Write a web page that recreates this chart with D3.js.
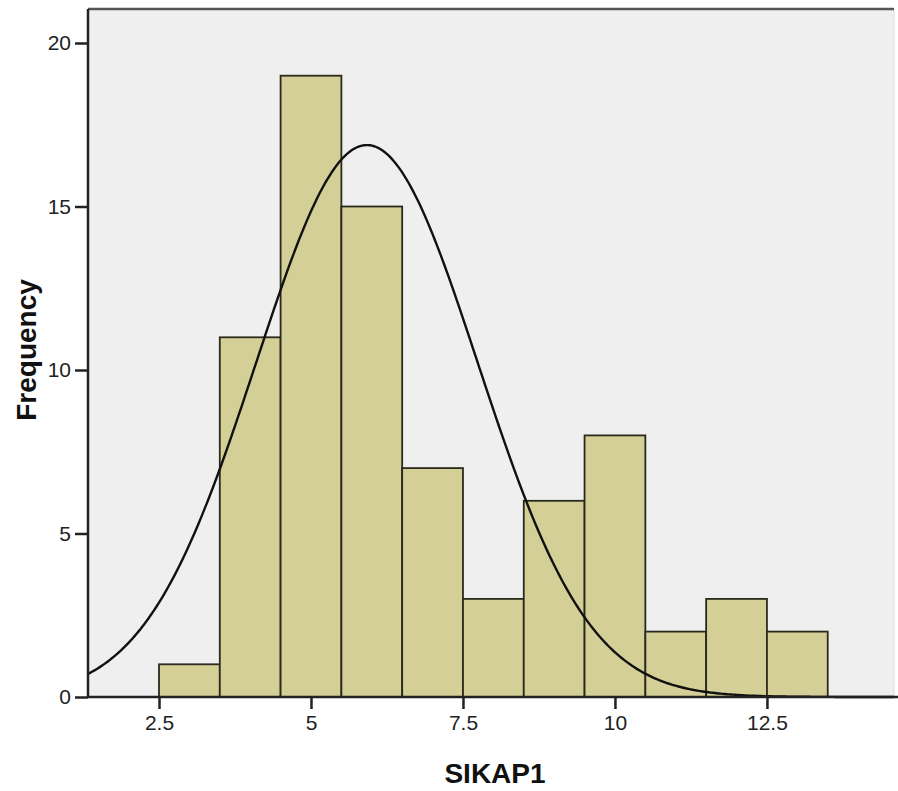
<!DOCTYPE html>
<html>
<head>
<meta charset="UTF-8" />
<style>
    body { margin: 0; background: #fff; }
    text { font-family: "Liberation Sans", Arial, sans-serif; fill: #222; }
    .tick-label { font-size: 21px; }
    .title { font-size: 28px; font-weight: bold; fill: #111; }
</style>
<script src="https://d3js.org/d3.v7.min.js"></script>
</head>
<body>
<svg width="898" height="791"></svg>
<script>
// histogram bins (lower edge) and counts
var binStarts = [2.5, 3.5, 4.5, 5.5, 6.5, 7.5, 8.5, 9.5, 10.5, 11.5, 12.5];
var counts    = [1, 11, 19, 15, 7, 3, 6, 8, 2, 3, 2];
var binWidth = 1;

// fitted normal curve
var curveMean = 5.92, curveSd = 1.82, curveN = 77;

var xTicks = [2.5, 5, 7.5, 10, 12.5];
var yTicks = [0, 5, 10, 15, 20];

var svg = d3.select("svg");

var plotLeft = 88, plotRight = 894, plotTop = 9, plotBottom = 697;

var x = d3.scaleLinear().domain([1.332, 14.59]).range([plotLeft, plotRight]);
var y = d3.scaleLinear().domain([0, 20]).range([plotBottom, 43]);

// plot background
svg.append("rect")
   .attr("x", plotLeft).attr("y", plotTop)
   .attr("width", plotRight - plotLeft).attr("height", plotBottom - plotTop)
   .attr("fill", "#efefef");
svg.append("line")
   .attr("x1", plotRight).attr("x2", plotRight).attr("y1", plotTop).attr("y2", plotBottom)
   .attr("stroke", "#dcdcdc").attr("stroke-width", 1);

// bars
svg.append("g").selectAll("rect")
   .data(counts)
   .enter().append("rect")
   .attr("x", function(d, i) { return x(binStarts[i]); })
   .attr("y", function(d) { return y(d); })
   .attr("width", function(d, i) { return x(binStarts[i] + binWidth) - x(binStarts[i]); })
   .attr("height", function(d) { return y(0) - y(d); })
   .attr("fill", "#d4cf97")
   .attr("stroke", "#2a2a1c")
   .attr("stroke-width", 1.8);

// normal curve
var pts = d3.range(0, 401).map(function(i) {
    var v = x.domain()[0] + (x.domain()[1] - x.domain()[0]) * i / 400;
    var z = (v - curveMean) / curveSd;
    var f = curveN * binWidth / (curveSd * Math.sqrt(2 * Math.PI)) * Math.exp(-z * z / 2);
    return [v, f];
});
svg.append("path")
   .datum(pts)
   .attr("d", d3.line().x(function(d) { return x(d[0]); }).y(function(d) { return y(d[1]); }))
   .attr("fill", "none")
   .attr("stroke", "#111")
   .attr("stroke-width", 2.4);

// frame top line
svg.append("line")
   .attr("x1", plotLeft).attr("x2", plotRight).attr("y1", plotTop).attr("y2", plotTop)
   .attr("stroke", "#555").attr("stroke-width", 2.5);

// axes
var yAxis = svg.append("g")
   .attr("transform", "translate(" + plotLeft + ",0)")
   .call(d3.axisLeft(y).tickValues(yTicks).tickSize(13).tickPadding(4).tickSizeOuter(0));
var xAxis = svg.append("g")
   .attr("transform", "translate(0," + plotBottom + ")")
   .call(d3.axisBottom(x).tickValues(xTicks).tickSize(12).tickPadding(6).tickSizeOuter(0)
        .tickFormat(d3.format("")));

[yAxis, xAxis].forEach(function(a) {
    a.attr("font-size", null).attr("font-family", null);
    a.select(".domain").attr("stroke", "#222").attr("stroke-width", 2.5);
    a.selectAll(".tick line").attr("stroke", "#222").attr("stroke-width", 2.5);
    a.selectAll(".tick text").attr("class", "tick-label").attr("fill", "#222");
});
yAxis.select(".domain").attr("d", "M0," + plotTop + "V" + plotBottom);
xAxis.select(".domain").attr("d", "M" + plotLeft + ",0H898");

svg.append("text")
   .attr("class", "title")
   .attr("x", 495).attr("y", 783)
   .attr("text-anchor", "middle")
   .text("SIKAP1");

svg.append("text")
   .attr("class", "title")
   .attr("transform", "translate(36,350) rotate(-90)")
   .attr("text-anchor", "middle")
   .text("Frequency");
</script>
</body>
</html>
